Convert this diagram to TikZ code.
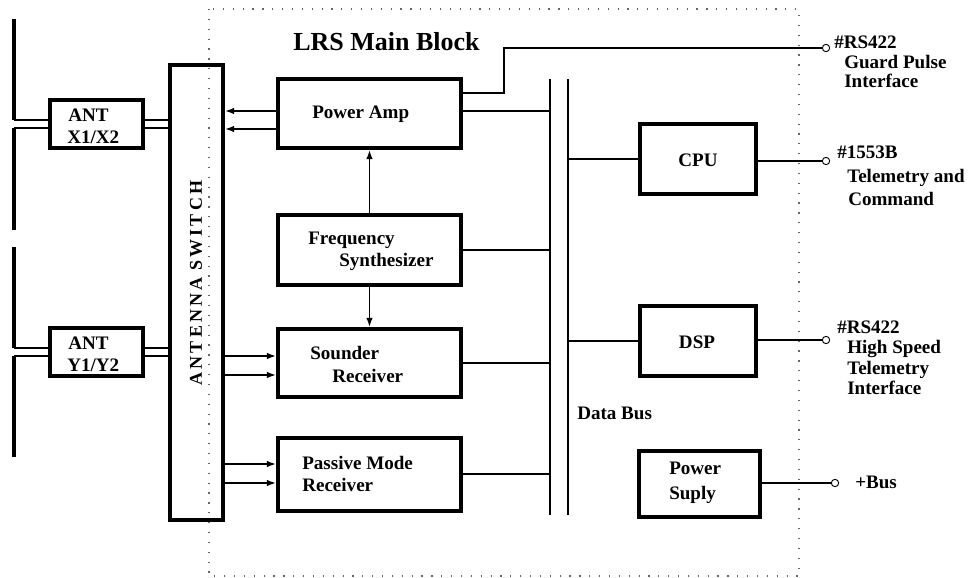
\documentclass[tikz,border=0pt]{standalone}
\usepackage{fontspec}
\setmainfont{Liberation Serif}
\usetikzlibrary{arrows.meta}
\begin{document}
\begin{tikzpicture}[x=0.75pt,y=-0.75pt,
  blk/.style={draw, line width=2.8pt, inner sep=0pt, rectangle},
  txt/.style={font=\bfseries\fontsize{14.3}{16}\selectfont, inner sep=0pt, anchor=base west},
  ctxt/.style={font=\bfseries\fontsize{14.3}{16}\selectfont, inner sep=0pt, anchor=base},
  conn/.style={line width=1.4pt},
  arr/.style={line width=1.4pt, -{Latex[length=7pt,width=5pt]}},
  aerial/.style={line width=2.8pt},
  busline/.style={line width=1.6pt},
  term/.style={circle, draw, line width=0.7pt, inner sep=0pt, minimum size=5.5pt, fill=white},
  border/.style={gray!80!black, line width=0.9pt, dash pattern=on 0.9pt off 6.5pt}
]
\useasboundingbox (0,0) rectangle (971,578);

% main block border
\draw[border] (209,9) rectangle (799,576);
\node[font=\bfseries\fontsize{19.5}{22}\selectfont, inner sep=0pt, anchor=base west] (title) at (293,50) {LRS Main Block};

% boxes
\node[blk, minimum width=69.75pt, minimum height=36pt] (antX) at (96.5,124) {};
\node[blk, minimum width=69.75pt, minimum height=36pt] (antY) at (96.5,352) {};
\node[blk, minimum width=39.75pt, minimum height=341.25pt] (sw) at (196.5,292.5) {};
\node[blk, minimum width=137.25pt, minimum height=51.75pt] (pa) at (369.5,113.5) {};
\node[blk, minimum width=137.25pt, minimum height=52.5pt] (fs) at (369.5,250) {};
\node[blk, minimum width=137.25pt, minimum height=51pt] (sr) at (369.5,363) {};
\node[blk, minimum width=137.25pt, minimum height=54.75pt] (pm) at (369.5,474.5) {};
\node[blk, minimum width=87pt, minimum height=52.5pt] (cpu) at (698,159) {};
\node[blk, minimum width=87pt, minimum height=52.5pt] (dsp) at (698,341) {};
\node[blk, minimum width=90.75pt, minimum height=49.5pt] (ps) at (699.5,484) {};

% box texts
\node[txt] (tantx1) at (68,121) {ANT};
\node[txt] (tantx2) at (67,143) {X1/X2};
\node[txt] (tanty1) at (68,349) {ANT};
\node[txt] (tanty2) at (67,371) {Y1/Y2};
\node[font=\bfseries\fontsize{13.5}{15}\selectfont\addfontfeature{LetterSpace=17}, inner sep=0pt, rotate=90] (tsw) at (196,283) {ANTENNA SWITCH};
\node[txt] (tpa) at (312,118) {Power Amp};
\node[txt] (tfs1) at (308,244) {Frequency};
\node[txt] (tfs2) at (339,266) {Synthesizer};
\node[txt] (tsr1) at (310,359) {Sounder};
\node[txt] (tsr2) at (332,382) {Receiver};
\node[txt] (tpm1) at (302,469) {Passive Mode};
\node[txt] (tpm2) at (302,491) {Receiver};
\node[ctxt] (tcpu) at (698,166) {CPU};
\node[ctxt] (tdsp) at (697,348) {DSP};
\node[txt] (tps1) at (669,474) {Power};
\node[txt] (tps2) at (669,499) {Suply};

% antennas
\coordinate (ax1t) at (14,19);  \coordinate (ax1b) at (14,120);
\coordinate (ax2t) at (14,128); \coordinate (ax2b) at (14,230);
\coordinate (ay1t) at (14,247); \coordinate (ay1b) at (14,348);
\coordinate (ay2t) at (14,356); \coordinate (ay2b) at (14,457);
\draw[aerial] (ax1t) -- (ax1b);
\draw[aerial] (ax2t) -- (ax2b);
\draw[aerial] (ay1t) -- (ay1b);
\draw[aerial] (ay2t) -- (ay2b);
\draw[conn] (ax1b) -- (antX.west |- ax1b);
\draw[conn] (ax2t) -- (antX.west |- ax2t);
\draw[conn] (ay1b) -- (antY.west |- ay1b);
\draw[conn] (ay2t) -- (antY.west |- ay2t);
\draw[conn] (antX.east |- 0,120) -- (sw.west |- 0,120);
\draw[conn] (antX.east |- 0,128) -- (sw.west |- 0,128);
\draw[conn] (antY.east |- 0,348) -- (sw.west |- 0,348);
\draw[conn] (antY.east |- 0,356) -- (sw.west |- 0,356);

% switch <-> RF boxes
\draw[arr] (pa.west |- 0,111) -- (sw.east |- 0,111);
\draw[arr] (pa.west |- 0,129) -- (sw.east |- 0,129);
\draw[arr] (sw.east |- 0,356) -- (sr.west |- 0,356);
\draw[arr] (sw.east |- 0,375) -- (sr.west |- 0,375);
\draw[arr] (sw.east |- 0,464) -- (pm.west |- 0,464);
\draw[arr] (sw.east |- 0,483) -- (pm.west |- 0,483);
\draw[arr] (fs.north) -- (pa.south);
\draw[arr] (fs.south) -- (sr.north);

% data bus
\coordinate (busAt) at (550,79); \coordinate (busAb) at (550,515);
\coordinate (busBt) at (568,79); \coordinate (busBb) at (568,515);
\draw[busline] (busAt) -- (busAb);
\draw[busline] (busBt) -- (busBb);
\node[txt] (tbus) at (577,419) {Data Bus};
\draw[conn] (pa.east |- 0,111) -- (busAt |- 0,111);
\draw[conn] (fs.east) -- (busAt |- fs.east);
\draw[conn] (sr.east) -- (busAt |- sr.east);
\draw[conn] (pm.east |- 0,474) -- (busAt |- 0,474);
\draw[conn] (busBt |- cpu.west) -- (cpu.west);
\draw[conn] (busBt |- dsp.west) -- (dsp.west);

% external terminals
\node[term] (c1) at (826,48) {};
\node[term] (c2) at (826,161) {};
\node[term] (c3) at (826,340) {};
\node[term] (c4) at (835,483) {};
\draw[conn] (pa.east |- 0,93) -- (504,93) -- (504,48) -- (c1.west);
\draw[conn] (cpu.east |- c2) -- (c2.west);
\draw[conn] (dsp.east |- c3) -- (c3.west);
\draw[conn] (ps.east |- c4) -- (c4.west);

% external labels
\node[txt] (l1a) at (834,48) {\#RS422};
\node[txt] (l1b) at (844,68) {Guard Pulse};
\node[txt] (l1c) at (844,87) {Interface};
\node[txt] (l2a) at (837,158) {\#1553B};
\node[txt] (l2b) at (847,182) {Telemetry and};
\node[txt] (l2c) at (848,205) {Command};
\node[txt] (l3a) at (837,333) {\#RS422};
\node[txt] (l3b) at (847,353) {High Speed};
\node[txt] (l3c) at (847,374) {Telemetry};
\node[txt] (l3d) at (847,394) {Interface};
\node[txt] (l4) at (855,488) {+Bus};
\end{tikzpicture}
\end{document}
